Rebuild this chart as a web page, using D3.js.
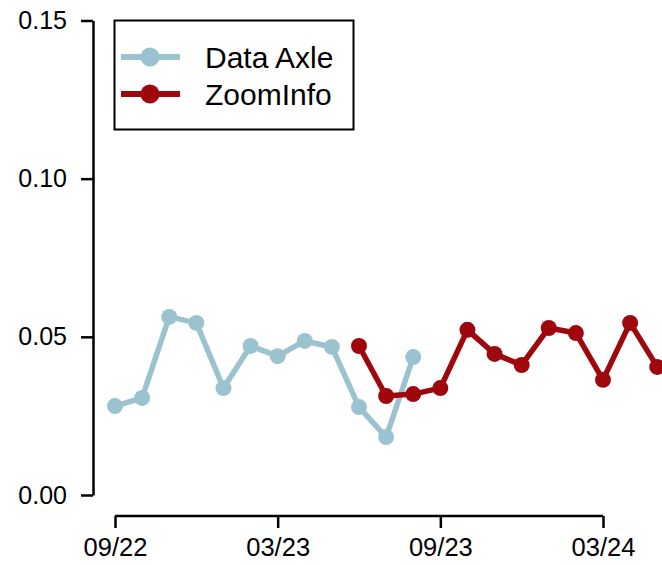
<!DOCTYPE html>
<html>
<head>
<meta charset="utf-8">
<script src="https://cdn.jsdelivr.net/npm/d3@7"></script>
<style>
  html, body { margin: 0; padding: 0; background: #ffffff; }
  svg { display: block; font-family: "Liberation Sans", Arial, sans-serif; }
</style>
</head>
<body>
<svg id="chart" width="662" height="565"></svg>
<script>
// Month labels (index 0 = 09/22)
const months = ["09/22","10/22","11/22","12/22","01/23","02/23","03/23","04/23","05/23","06/23","07/23","08/23",
                "09/23","10/23","11/23","12/23","01/24","02/24","03/24","04/24","05/24"];
const xTickLabels = ["09/22","03/23","09/23","03/24"];
const yTickValues = [0.00, 0.05, 0.10, 0.15];

// Series
const dataAxleMonths = ["09/22","10/22","11/22","12/22","01/23","02/23","03/23","04/23","05/23","06/23","07/23","08/23"];
const dataAxleValues = [0.0281,0.0307,0.0563,0.0544,0.0338,0.0471,0.0439,0.0487,0.0468,0.0278,0.0183,0.0436];
const zoomInfoMonths = ["06/23","07/23","08/23","09/23","10/23","11/23","12/23","01/24","02/24","03/24","04/24","05/24"];
const zoomInfoValues = [0.0471,0.0313,0.0319,0.0338,0.0522,0.0446,0.0411,0.0528,0.0512,0.0364,0.0544,0.0405];

const seriesNames = ["Data Axle","ZoomInfo"];
const seriesColors = ["#9ac3cf","#9e080d"];

const svg = d3.select("#chart");

const x = d3.scaleLinear().domain([0, 18]).range([115, 603]);
const y = d3.scaleLinear().domain([0, 0.15]).range([495, 20.5]);

const series = [
  { name: seriesNames[0], color: seriesColors[0], pts: dataAxleMonths.map((m, i) => ({ i: months.indexOf(m), v: dataAxleValues[i] })) },
  { name: seriesNames[1], color: seriesColors[1], pts: zoomInfoMonths.map((m, i) => ({ i: months.indexOf(m), v: zoomInfoValues[i] })) }
];

// Y axis
const yAxis = d3.axisLeft(y)
  .tickValues(yTickValues)
  .tickFormat(d3.format(".2f"))
  .tickSize(12)
  .tickSizeOuter(0)
  .tickPadding(14);
const gy = svg.append("g").attr("transform", "translate(93,0)").call(yAxis);
gy.selectAll("path.domain").attr("stroke", "#000").attr("stroke-width", 2.5);
gy.selectAll(".tick line").attr("stroke", "#000").attr("stroke-width", 2.5);
gy.selectAll(".tick text").attr("font-size", 25).attr("fill", "#000")
  .attr("font-family", "'Liberation Sans', Arial, sans-serif");

// X axis
const xAxis = d3.axisBottom(x)
  .tickValues(xTickLabels.map(l => months.indexOf(l)))
  .tickFormat(i => months[i])
  .tickSize(12)
  .tickSizeOuter(0)
  .tickPadding(10);
const gx = svg.append("g").attr("transform", "translate(0,516)").call(xAxis);
gx.select("path.domain").remove();
gx.append("line")
  .attr("x1", x(months.indexOf(xTickLabels[0])))
  .attr("x2", x(months.indexOf(xTickLabels[xTickLabels.length - 1])))
  .attr("y1", 0).attr("y2", 0)
  .attr("stroke", "#000").attr("stroke-width", 2.5);
gx.selectAll(".tick line").attr("stroke", "#000").attr("stroke-width", 2.5);
gx.selectAll(".tick text").attr("font-size", 25.5).attr("fill", "#000")
  .attr("font-family", "'Liberation Sans', Arial, sans-serif");

// Lines and points
const line = d3.line().x(d => x(d.i)).y(d => y(d.v));
series.forEach(s => {
  svg.append("path")
    .datum(s.pts)
    .attr("d", line)
    .attr("fill", "none")
    .attr("stroke", s.color)
    .attr("stroke-width", 5.5)
    .attr("stroke-linejoin", "round");
  svg.append("g").selectAll("circle")
    .data(s.pts)
    .join("circle")
    .attr("cx", d => x(d.i))
    .attr("cy", d => y(d.v))
    .attr("r", 8)
    .attr("fill", s.color);
});

// Legend
const lg = svg.append("g");
lg.append("rect")
  .attr("x", 114.5).attr("y", 20.5)
  .attr("width", 239).attr("height", 109)
  .attr("fill", "#fff").attr("stroke", "#000").attr("stroke-width", 2);
series.forEach((s, k) => {
  const cy = 57 + k * 37;
  lg.append("line")
    .attr("x1", 121).attr("x2", 180)
    .attr("y1", cy).attr("y2", cy)
    .attr("stroke", s.color).attr("stroke-width", 6);
  lg.append("circle")
    .attr("cx", 150).attr("cy", cy).attr("r", 9.5)
    .attr("fill", s.color);
  lg.append("text")
    .attr("x", 205).attr("y", cy)
    .attr("dy", "0.36em")
    .attr("font-size", 30)
    .attr("fill", "#000")
    .text(s.name);
});
</script>
</body>
</html>
